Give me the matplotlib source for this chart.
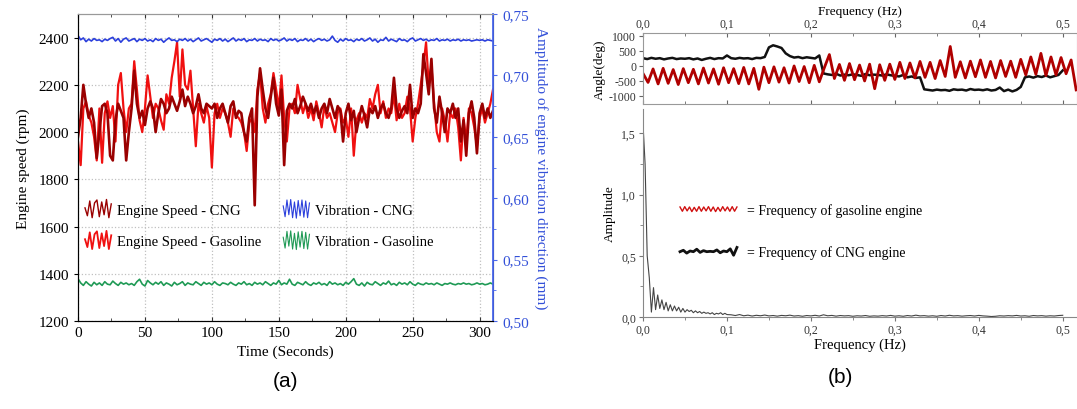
import numpy as np
import matplotlib
matplotlib.use('Agg')
import matplotlib.pyplot as plt
from matplotlib.ticker import FuncFormatter, MultipleLocator
from matplotlib.legend_handler import HandlerBase
from matplotlib.lines import Line2D

plt.rcParams['font.family'] = ['Liberation Serif', 'DejaVu Serif']
plt.rcParams['axes.unicode_minus'] = False

# ---------------- data: panel (a) ----------------
time_s = np.arange(0, 311, 2)

speed_cng = [
    1980, 2060, 2200, 2120, 2060, 2100, 2040, 1890, 2000, 2110,
    2120, 2080, 1900, 1880, 2050, 2120, 2090, 2060, 1880, 2000,
    2100, 2260, 2120, 2060, 2090, 2030, 2100, 2130, 2100, 2000,
    2080, 2140, 2120, 2080, 2100, 2150, 2120, 2090, 2130, 2180,
    2110, 2150, 2120, 2080, 2110, 2160, 2100, 2080, 2120, 2110,
    2100, 2120, 2060, 2100, 2120, 2080, 2040, 2110, 2130, 2060,
    2090, 2080, 2000, 1960, 2060, 2100, 1690, 2150, 2270, 2180,
    2100, 2060, 2150, 2230, 2120, 2070, 2180, 1860, 2090, 2120,
    2100, 2140, 2080, 2110, 2150, 2120, 2090, 2120, 2080, 2110,
    2060, 2100, 2120, 2080, 2140, 2100, 2060, 2110, 2090, 1960,
    2080, 2120, 2050, 2090, 2000, 2060, 2110, 2070, 2020, 2100,
    2080, 2110, 2060, 2100, 2120, 2080, 2060, 2100, 2230, 2100,
    2060, 2090, 2110, 2080, 2200, 2060, 2100, 2080, 2120, 2330,
    2250, 2160, 2310, 2100, 2040, 2150, 2080, 2000, 2100, 2080,
    2120, 2060, 2100, 1960, 2050, 1900, 2080, 2130, 2060, 1910,
    2080, 2120, 2060, 2100, 2060, 2090,
]

speed_gas = [
    1960, 1860, 2100, 2130, 2070, 2040, 1980, 1880, 2100, 1870,
    2080, 2130, 2060, 2110, 1960, 2200, 2250, 2100, 2000, 2100,
    2120, 2300, 2180, 2050, 2000, 2100, 2240, 2150, 2060, 2120,
    2100, 2050, 2010, 2160, 2120, 2230, 2300, 2380, 2150, 2350,
    2200, 2180, 2260, 2100, 1940, 2120, 2080, 2040, 2110, 2060,
    1850, 2080, 2120, 2060, 2100, 2080, 2040, 1980, 2100, 2070,
    2060, 2040, 2000, 1920, 2040, 2060, 2000, 2180, 2250, 2100,
    2040, 2120, 2160, 2250, 2180, 2100, 2240, 2060, 1960, 2100,
    2120, 2080, 2200, 2140, 2080, 2120, 2060, 2100, 2050, 2130,
    2080, 2020, 2110, 2060, 2080, 2040, 2000, 2080, 2100, 2040,
    2060, 1980, 2100, 1900, 2050, 2080, 2040, 2080, 2060, 2140,
    2100, 2160, 2200, 2080, 2130, 2060, 2100, 2080, 2160, 2050,
    2120, 2060, 2080, 2150, 2100, 1960, 2060, 2120, 2200, 2280,
    2380, 2200, 2280, 2120, 2000, 1960, 2100, 2050, 1960, 2080,
    2060, 2100, 2020, 1880, 2060, 1960, 2100, 2080, 2020, 1940,
    2060, 2100, 2040, 2080, 2120, 2180,
]

vib_cng = [
    0.7325, 0.7290, 0.7305, 0.7275, 0.7295, 0.7280, 0.7300, 0.7285, 0.7290, 0.7275,
    0.7295, 0.7285, 0.7300, 0.7310, 0.7280, 0.7300, 0.7270, 0.7295, 0.7305, 0.7280,
    0.7290, 0.7300, 0.7275, 0.7295, 0.7285, 0.7300, 0.7280, 0.7290, 0.7275, 0.7300,
    0.7285, 0.7295, 0.7270, 0.7290, 0.7305, 0.7285, 0.7290, 0.7275, 0.7295, 0.7285,
    0.7300, 0.7280, 0.7295, 0.7275, 0.7290, 0.7305, 0.7280, 0.7290, 0.7300, 0.7285,
    0.7270, 0.7295, 0.7285, 0.7300, 0.7280, 0.7295, 0.7275, 0.7290, 0.7305, 0.7280,
    0.7295, 0.7285, 0.7300, 0.7275, 0.7290, 0.7285, 0.7300, 0.7280, 0.7295, 0.7285,
    0.7290, 0.7275, 0.7300, 0.7285, 0.7295, 0.7280, 0.7290, 0.7305, 0.7280, 0.7295,
    0.7285, 0.7300, 0.7275, 0.7290, 0.7285, 0.7300, 0.7280, 0.7295, 0.7275, 0.7290,
    0.7300, 0.7285, 0.7295, 0.7280, 0.7290, 0.7320, 0.7285, 0.7270, 0.7295, 0.7280,
    0.7300, 0.7285, 0.7290, 0.7275, 0.7295, 0.7285, 0.7300, 0.7280, 0.7290, 0.7305,
    0.7280, 0.7295, 0.7270, 0.7290, 0.7285, 0.7310, 0.7280, 0.7295, 0.7285, 0.7275,
    0.7300, 0.7285, 0.7290, 0.7275, 0.7295, 0.7305, 0.7280, 0.7290, 0.7300, 0.7285,
    0.7295, 0.7280, 0.7290, 0.7285, 0.7300, 0.7280, 0.7290, 0.7285, 0.7295, 0.7280,
    0.7290, 0.7285, 0.7295, 0.7280, 0.7290, 0.7285, 0.7290, 0.7280, 0.7285, 0.7290,
    0.7285, 0.7290, 0.7280, 0.7290, 0.7285, 0.7280,
]

vib_gas = [
    0.5345, 0.5310, 0.5290, 0.5320, 0.5300, 0.5285, 0.5315, 0.5295, 0.5310, 0.5290,
    0.5320, 0.5300, 0.5295, 0.5325, 0.5305, 0.5290, 0.5315, 0.5300, 0.5310, 0.5295,
    0.5305, 0.5290, 0.5320, 0.5340, 0.5300, 0.5285, 0.5330, 0.5310, 0.5295, 0.5315,
    0.5300, 0.5320, 0.5290, 0.5310, 0.5300, 0.5285, 0.5315, 0.5295, 0.5305, 0.5320,
    0.5290, 0.5310, 0.5300, 0.5295, 0.5320, 0.5305, 0.5290, 0.5315, 0.5300, 0.5310,
    0.5295, 0.5320, 0.5300, 0.5290, 0.5310, 0.5305, 0.5295, 0.5315, 0.5300, 0.5290,
    0.5310, 0.5300, 0.5320, 0.5295, 0.5305, 0.5290, 0.5315, 0.5300, 0.5310, 0.5295,
    0.5320, 0.5305, 0.5290, 0.5310, 0.5300, 0.5330, 0.5295, 0.5310, 0.5300, 0.5340,
    0.5300, 0.5290, 0.5315, 0.5305, 0.5295, 0.5320, 0.5300, 0.5290, 0.5310, 0.5300,
    0.5315, 0.5295, 0.5305, 0.5290, 0.5320, 0.5300, 0.5310, 0.5295, 0.5305, 0.5290,
    0.5315, 0.5300, 0.5320, 0.5345, 0.5300, 0.5290, 0.5310, 0.5285, 0.5315, 0.5300,
    0.5295, 0.5320, 0.5305, 0.5290, 0.5310, 0.5300, 0.5325, 0.5295, 0.5305, 0.5290,
    0.5315, 0.5300, 0.5310, 0.5295, 0.5320, 0.5300, 0.5290, 0.5310, 0.5300, 0.5295,
    0.5310, 0.5300, 0.5305, 0.5295, 0.5310, 0.5300, 0.5290, 0.5305, 0.5300, 0.5310,
    0.5300, 0.5295, 0.5305, 0.5300, 0.5310, 0.5300, 0.5305, 0.5295, 0.5300, 0.5310,
    0.5300, 0.5305, 0.5295, 0.5300, 0.5310, 0.5300,
]

# ---------------- data: panel (b) ----------------
freq_gas_phase = np.arange(87) * 0.006
angle_gas = [
    -250, -550, -100, -600, -80, -580, -120, -620, -90, -560,
    -110, -600, -70, -570, -100, -610, -60, -560, -90, -590,
    -50, -600, -80, -780, -40, -560, -30, -540, -60, -570,
    0, -520, -20, -560, 20, -530, -60, 380, -420, 50,
    -480, 80, -460, 30, -500, 60, -760, 40, -480, 60,
    -450, 120, -420, 100, -400, 150, -380, 120, -420, 180,
    -350, 650, -380, 140, -400, 160, -360, 200, -380, 150,
    -400, 180, -350, 160, -380, 220, -300, 300, -280, 420,
    -320, 300, -300, 280, -260, 200, -800,
]

freq_cng_phase = np.arange(101) * 0.005
angle_cng = [
    260, 230, 270, 240, 260, 220, 250, 270, 230, 250,
    240, 260, 220, 250, 200, 240, 270, 230, 260, 250,
    350, 260, 240, 270, 250, 260, 230, 270, 260, 300,
    620, 690, 650, 600, 420, 330, 280, 300, 260, 290,
    270, 250, 350, -250, -280, -300, -260, -320, -290, -310,
    -280, -300, -330, -270, -310, -290, -300, -320, -280, -310,
    -330, -350, -300, -380, -350, -400, -380, -780, -800, -820,
    -790, -810, -800, -830, -780, -800, -790, -820, -770, -800,
    -790, -810, -780, -820, -800, -720, -840, -790, -850, -800,
    -700, -380, -350, -390, -340, -370, -320, -380, -340, -300,
    -150,
]

freq_amp = np.concatenate([np.arange(41) * 0.0025, 0.105 + np.arange(80) * 0.005])
amplitude = [
    1.58, 1.25, 0.50, 0.32, 0.04, 0.24, 0.06, 0.18, 0.07, 0.14,
    0.06, 0.12, 0.05, 0.10, 0.05, 0.09, 0.05, 0.08, 0.04, 0.07,
    0.04, 0.06, 0.045, 0.055, 0.035, 0.05, 0.035, 0.045, 0.03, 0.04,
    0.03, 0.035, 0.025, 0.035, 0.02, 0.03, 0.025, 0.035, 0.02, 0.03,
    0.02,
    0.018, 0.012, 0.020, 0.010, 0.015, 0.008, 0.014, 0.010, 0.016, 0.009,
    0.012, 0.007, 0.013, 0.010, 0.015, 0.008, 0.011, 0.006, 0.012, 0.009,
    0.014, 0.008, 0.018, 0.010, 0.013, 0.007, 0.012, 0.009, 0.011, 0.006,
    0.010, 0.008, 0.012, 0.006, 0.009, 0.007, 0.011, 0.008, 0.013, 0.007,
    0.010, 0.006, 0.012, 0.008, 0.015, 0.009, 0.011, 0.007, 0.010, 0.006,
    0.012, 0.008, 0.014, 0.009, 0.011, 0.007, 0.010, 0.012, 0.008, 0.013,
    0.009, 0.007, 0.004, 0.006, 0.010, 0.008, 0.011, 0.009, 0.013, 0.008,
    0.010, 0.006, 0.012, 0.009, 0.011, 0.007, 0.010, 0.008, 0.012, 0.014,
]

# ---------------- styles ----------------
C_CNG = '#9a0000'
C_GAS = '#f01010'
C_VCNG = '#2b3fdc'
C_VGAS = '#1f9a55'
C_AXBLUE = '#4a68ee'
C_BRED = '#b00000'


class Zigzag(HandlerBase):
    def __init__(self, shape, lw):
        super().__init__()
        self.shape = shape
        self.lw = lw

    def create_artists(self, legend, orig_handle, xdescent, ydescent,
                       width, height, fontsize, trans):
        n = len(self.shape)
        xs = np.linspace(-xdescent, width - xdescent, n)
        ys = [-ydescent + height * (0.5 + 0.5 * v) for v in self.shape]
        ln = Line2D(xs, ys, color=orig_handle.get_color(), lw=self.lw,
                    transform=trans)
        return [ln]


comma1 = FuncFormatter(lambda v, p: f"{v:.1f}".replace('.', ','))
comma2 = FuncFormatter(lambda v, p: f"{v:.2f}".replace('.', ','))

W, H = 1077, 410
fig = plt.figure(figsize=(W / 100, H / 100), dpi=100)

# ---------------- panel (a) ----------------
axA = fig.add_axes([78 / W, 1 - 322 / H, (493 - 78) / W, (322 - 15) / H])
axA2 = axA.twinx()

l_gas, = axA.plot(time_s, speed_gas, color=C_GAS, lw=1.6, label='Engine Speed - Gasoline')
l_cng, = axA.plot(time_s, speed_cng, color=C_CNG, lw=1.9, label='Engine Speed - CNG')
l_vc, = axA2.plot(time_s, vib_cng, color=C_VCNG, lw=1.2, label='Vibration - CNG')
l_vg, = axA2.plot(time_s, vib_gas, color=C_VGAS, lw=1.2, label='Vibration - Gasoline')

axA.set_xlim(0, 310)
axA.set_ylim(1200, 2500)
axA2.set_ylim(0.50, 0.75)
axA.xaxis.set_major_locator(MultipleLocator(50))
axA.xaxis.set_minor_locator(MultipleLocator(25))
axA.yaxis.set_major_locator(MultipleLocator(200))
axA2.yaxis.set_major_locator(MultipleLocator(0.05))
axA2.yaxis.set_minor_locator(MultipleLocator(0.025))
axA2.yaxis.set_major_formatter(comma2)

axA.set_axisbelow(True)
axA.grid(True, which='major', linestyle=':', color='#c0c0c0', lw=0.9)
axA.tick_params(axis='x', which='both', direction='in', top=True, labelsize=11,
                length=3, color='#333333')
axA.tick_params(axis='x', which='minor', length=2)
axA.tick_params(axis='y', direction='out', labelsize=11, length=3)
axA2.tick_params(axis='y', which='both', direction='out', colors=C_AXBLUE,
                 labelsize=11, length=3, labelcolor='#3350d8')
axA2.tick_params(axis='y', which='minor', length=2)
axA.spines['top'].set_color('#999999')
axA2.spines['top'].set_color('#999999')
axA2.spines['right'].set_color(C_AXBLUE)
axA2.spines['right'].set_linewidth(1.3)
axA.spines['left'].set_color('#333333')
axA.spines['bottom'].set_color('#333333')

axA.set_xlabel('Time (Seconds)', fontsize=11, labelpad=4)
axA.set_ylabel('Engine speed (rpm)', fontsize=11, labelpad=6)
axA2.set_ylabel('Amplitudo of engine vibration direction (mm)', fontsize=11,
                color='#3350d8', rotation=270, labelpad=14)

shape_speed = [0.1, -0.7, 0.8, -0.9, 0.6, 0.9, -0.8, 0.7, -0.6, 0.95, -0.9, 0.5]
shape_vib = [0.3, -0.8, 0.9, -0.6, 0.95, -0.9, 0.7, -0.95, 0.85, -0.7, 0.9,
             -0.85, 0.8, -0.9, 0.6]
legA = axA2.legend(
    [l_cng, l_gas, l_vc, l_vg],
    ['Engine Speed - CNG', 'Engine Speed - Gasoline', 'Vibration - CNG', 'Vibration - Gasoline'],
    handler_map={l_cng: Zigzag(shape_speed, 1.0), l_gas: Zigzag(shape_speed, 1.3),
                 l_vc: Zigzag(shape_vib, 0.8), l_vg: Zigzag(shape_vib, 0.8)},
    ncol=2, frameon=False, fontsize=10.5, loc='upper left',
    bbox_to_anchor=(85 / W, 1 - 200 / H), bbox_transform=fig.transFigure,
    borderpad=0, borderaxespad=0, handlelength=1.8, handleheight=1.7,
    handletextpad=0.4, labelspacing=0.8, columnspacing=1.5)

fig.text(285 / W, 1 - 382 / H, '(a)', ha='center', va='center', fontsize=15,
         family=['Liberation Sans', 'DejaVu Sans'])

# ---------------- panel (b): angle ----------------
axT = fig.add_axes([643 / W, 1 - 105 / H, (W - 643) / W, (105 - 34) / H])
axT.plot(freq_cng_phase, angle_cng, color='#111111', lw=1.8)
axT.plot(freq_gas_phase, angle_gas, color=C_BRED, lw=2.0)
axT.set_xlim(0, 0.517)
axT.set_ylim(-1270, 1100)
axT.xaxis.tick_top()
axT.xaxis.set_label_position('top')
axT.xaxis.set_major_locator(MultipleLocator(0.1))
axT.xaxis.set_minor_locator(MultipleLocator(0.05))
axT.xaxis.set_major_formatter(comma1)
axT.yaxis.set_major_locator(MultipleLocator(500))
axT.tick_params(axis='x', which='both', direction='in', top=True, bottom=True,
                labelsize=8.5, length=3, colors='#666666', labelcolor='#333333', pad=2)
axT.tick_params(axis='x', which='minor', length=2)
axT.tick_params(axis='y', direction='out', labelsize=8.5, length=3,
                colors='#666666', labelcolor='#333333', pad=2)
for s in axT.spines.values():
    s.set_color('#999999')
axT.set_xlabel('Frequency (Hz)', fontsize=9.5, labelpad=3)
axT.set_ylabel('Angle(deg)', fontsize=9.5, labelpad=2)

# ---------------- panel (b): amplitude ----------------
axB = fig.add_axes([643 / W, 1 - 318 / H, (W - 643) / W, (318 - 110) / H])
l_bg, = axB.plot([], [], color='#d01010', label='= Frequency of gasoline engine')
l_bc, = axB.plot([], [], color='#111111', label='= Frequency of CNG engine')
axB.plot(freq_amp, amplitude, color='#444444', lw=0.8)
axB.set_xlim(0, 0.517)
axB.set_ylim(0, 1.70)
axB.spines['top'].set_visible(False)
axB.spines['right'].set_visible(False)
axB.spines['left'].set_color('#888888')
axB.spines['bottom'].set_color('#888888')
axB.xaxis.set_major_locator(MultipleLocator(0.1))
axB.xaxis.set_minor_locator(MultipleLocator(0.05))
axB.yaxis.set_major_locator(MultipleLocator(0.5))
axB.yaxis.set_minor_locator(MultipleLocator(0.25))
axB.xaxis.set_major_formatter(comma1)
axB.yaxis.set_major_formatter(comma1)
axB.tick_params(axis='both', which='both', direction='out', labelsize=8.5, length=3,
                colors='#777777', labelcolor='#333333', pad=2)
axB.tick_params(axis='both', which='minor', length=2)
axB.set_xlabel('Frequency (Hz)', fontsize=10.5, labelpad=1)
axB.set_ylabel('Amplitude', fontsize=9.5, labelpad=4)

shape_red = [0.3, -0.3, 0.35, -0.25, 0.3, -0.35, 0.25, -0.3, 0.35, -0.3, 0.3,
             -0.25, 0.35, -0.3, 0.3, -0.35, 0.25, -0.3, 0.35, -0.25, 0.3, -0.3,
             0.35, -0.3, 0.3]
shape_blk = [0.0, 0.2, -0.2, 0.1, 0.0, 0.35, -0.1, 0.15, 0.0, 0.05, 0.0, 0.25,
             -0.15, 0.1, 0.0, 0.4, -0.5, 0.6]
axB.legend([l_bg, l_bc], ['= Frequency of gasoline engine', '= Frequency of CNG engine'],
           handler_map={l_bg: Zigzag(shape_red, 1.0), l_bc: Zigzag(shape_blk, 2.0)},
           frameon=False, fontsize=10, loc='upper left',
           bbox_to_anchor=(680 / W, 1 - 203 / H), bbox_transform=fig.transFigure,
           borderpad=0, borderaxespad=0, handlelength=4.1, handleheight=1.2,
           handletextpad=0.7, labelspacing=2.0)

fig.text(840 / W, 1 - 378 / H, '(b)', ha='center', va='center', fontsize=15,
         family=['Liberation Sans', 'DejaVu Sans'])

fig.savefig('out.png', dpi=100)
